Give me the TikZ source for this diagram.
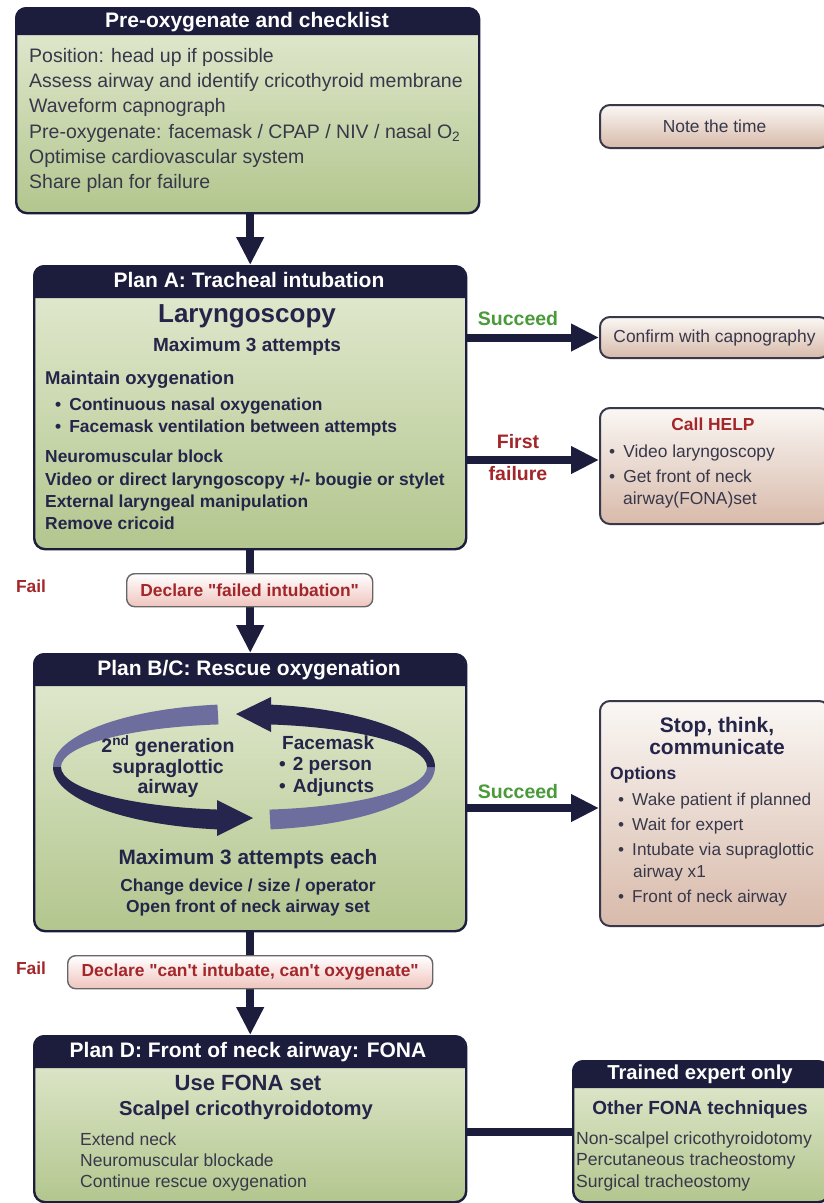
\documentclass[tikz,border=0pt]{standalone}
\usepackage{fontspec}
\setmainfont{Liberation Sans}[Ligatures=TeXOff]
\usetikzlibrary{arrows.meta}
\definecolor{navy}{HTML}{1C1C3C}
\definecolor{txtnavy}{HTML}{25254A}
\definecolor{txtgrey}{HTML}{38384A}
\definecolor{greentop}{HTML}{E4EBD3}
\definecolor{greenbot}{HTML}{B3C68E}
\definecolor{pinktop}{HTML}{FAF7F4}
\definecolor{pinkbot}{HTML}{D8BAAA}
\definecolor{decltop}{HTML}{FFFFFF}
\definecolor{declbot}{HTML}{EFC4BE}
\definecolor{redtxt}{HTML}{A3262A}
\definecolor{greentxt}{HTML}{4A9A3A}
\definecolor{ribdark}{HTML}{25254D}
\definecolor{riblight}{HTML}{6E6E9E}
\newcommand{\fsz}[1]{\fontsize{#1}{#1}\selectfont}
\tikzset{
  greenbox/.style={draw=navy, line width=2.4pt, rounded corners=11pt, top color=greentop, bottom color=greenbot, inner sep=0pt},
  pinkbox/.style={draw=txtgrey, line width=2pt, rounded corners=10pt, top color=pinktop, bottom color=pinkbot, inner sep=0pt, text=txtgrey, font=\fsz{17.4}},
  declbox/.style={draw=black!60, line width=1.4pt, rounded corners=8pt, top color=decltop, bottom color=declbot, inner sep=0pt, text=redtxt, font=\bfseries\fsz{17.4}},
  hdr/.style={text=white, font=\bfseries\fsz{21}, inner sep=0pt, anchor=mid},
  tb/.style={inner sep=0pt, text=txtnavy},
  tr/.style={inner sep=0pt, text=txtgrey},
  flow/.style={draw=navy, line width=8pt, -{Triangle[width=26pt,length=28pt]}},
  link/.style={draw=navy, line width=8pt},
  lblg/.style={inner sep=0pt, text=greentxt, font=\bfseries\fsz{19.5}, anchor=mid},
  lblr/.style={inner sep=0pt, text=redtxt, font=\bfseries\fsz{19.5}, anchor=mid}
}
\newcommand{\planbox}[6]{%
  \node[greenbox, anchor=north west, minimum width={#4pt-#2pt}, minimum height={#5pt-#3pt}] (#1) at (#2,#3) {};
  \fill[navy] (#2,#6) [rounded corners=11pt] -- (#2,#3) -- (#4,#3) [sharp corners] -- (#4,#6) -- cycle;
}
\newcommand{\sidebox}[6]{%
  \node[pinkbox, anchor=north west, minimum width={#4pt-#2pt}, minimum height={#5pt-#3pt}] (#1) at (#2,#3) {#6};
}
% ribbon segment between outer (191 x 63) and inner (183 x 43) ellipse, from angle #2 to #3
\newcommand{\ribseg}[3]{%
  \fill[#1] ([shift={(#2:191 and 63)}]cyc) arc[start angle=#2, end angle=#3, x radius=191, y radius=63]
    -- ([shift={(#3:183 and 43)}]cyc) arc[start angle=#3, end angle=#2, x radius=183, y radius=43] -- cycle;
}
\begin{document}
\begin{tikzpicture}[x=1pt, y=-1pt]
\useasboundingbox[fill=white] (0,0) rectangle (823,1203);

% ---------- main boxes ----------
\planbox{pre}{15}{7}{478}{212}{35}
\node[hdr] (pre-title) at (247,25) {Pre-oxygenate and checklist};
\planbox{planA}{33}{265}{465}{548}{298}
\node[hdr] (planA-title) at (249,285) {Plan A: Tracheal intubation};
\planbox{planBC}{33}{653}{465}{930}{686}
\node[hdr] (planBC-title) at (249,673) {Plan B/C: Rescue oxygenation};
\planbox{planD}{33}{1035}{465}{1201}{1068}
\node[hdr] (planD-title) at (248,1055) {Plan D: Front of neck airway: FONA};
\planbox{expert}{572}{1060}{828}{1201}{1088}
\node[hdr, font=\bfseries\fsz{20.2}] (expert-title) at (700,1077) {Trained expert only};

% ---------- side boxes ----------
\sidebox{note}{599}{104}{828}{147}{Note the time}
\sidebox{confirm}{599}{316}{828}{357}{Confirm with capnography}
\sidebox{help}{599}{407}{828}{523}{}
\sidebox{stop}{599}{700}{828}{925}{}

% ---------- connectors ----------
\draw[flow] (planA.north |- pre.south) -- (planA.north);
\draw[flow] (planA.south) -- (planBC.north);
\draw[flow] (planBC.south) -- (planD.north);
\draw[flow] (confirm.west -| planA.east) -- (confirm.west);
\coordinate (ff) at (465,460);
\draw[flow] (ff) -- (ff -| help.west);
\coordinate (sc) at (465,808);
\draw[flow] (sc) -- (sc -| stop.west);
\draw[link] (expert.west -| planD.east) -- (expert.west);

% ---------- declare boxes ----------
\node[declbox, anchor=north west, minimum width=246pt, minimum height=33pt] (decl1) at (126,573) {Declare "failed intubation"};
\node[declbox, anchor=north west, minimum width=365pt, minimum height=33pt] (decl2) at (67,955) {Declare "can't intubate, can't oxygenate"};
\node[lblr, font=\bfseries\fsz{17.4}] (fail1) at (31,590) {Fail};
\node[lblr, font=\bfseries\fsz{17.4}] (fail2) at (31,972) {Fail};

% ---------- labels ----------
\node[lblg] (succ1) at (518,323) {Succeed};
\node[lblr] (first) at (518,446) {First};
\node[lblr] (failure) at (518,478) {failure};
\node[lblg] (succ2) at (518,796) {Succeed};

% ---------- pre-oxygenate text ----------
\foreach \i/\yy/\tt in {1/60/{Position: head up if possible},
  2/85/{Assess airway and identify cricothyroid membrane},
  3/110/{Waveform capnograph},
  4/136/{Pre-oxygenate: facemask / CPAP / NIV / nasal O\textsubscript{2}},
  5/161/{Optimise cardiovascular system},
  6/186/{Share plan for failure}}
  \node[tr, anchor=mid west, font=\fsz{19.5}] (pre\i) at (29,\yy) {\tt};

% ---------- plan A text ----------
\node[tb, anchor=mid, font=\bfseries\fsz{26}] (laryn) at (247,320) {Laryngoscopy};
\node[tb, anchor=mid, font=\bfseries\fsz{19}] (max3) at (247,349) {Maximum 3 attempts};
\node[tb, anchor=mid west, font=\bfseries\fsz{18.5}] (maint) at (45,382) {Maintain oxygenation};
\node[tb, anchor=mid west, font=\bfseries\fsz{17.4}] (pa1) at (55,408) {•\hspace{8pt}Continuous nasal oxygenation};
\node[tb, anchor=mid west, font=\bfseries\fsz{17.4}] (pa2) at (55,430) {•\hspace{8pt}Facemask ventilation between attempts};
\foreach \i/\yy/\tt in {3/460/{Neuromuscular block},
  4/483/{Video or direct laryngoscopy +/- bougie or stylet},
  5/505/{External laryngeal manipulation},
  6/527/{Remove cricoid}}
  \node[tb, anchor=mid west, font=\bfseries\fsz{17.4}] (pa\i) at (45,\yy) {\tt};

% ---------- help box text ----------
\node[tb, anchor=mid, text=redtxt, font=\bfseries\fsz{17.4}] (helpT) at (713,428) {Call HELP};
\node[tr, anchor=mid west, font=\fsz{17.4}] (h1) at (609,455) {•\hspace{8pt}Video laryngoscopy};
\node[tr, anchor=mid west, font=\fsz{17.4}] (h2) at (609,480) {•\hspace{8pt}Get front of neck};
\node[tr, anchor=mid west, font=\fsz{17.4}] (h3) at (623,502) {airway(FONA)set};

% ---------- plan B/C cycle ----------
\coordinate (cyc) at (244,767);
\ribseg{riblight}{262}{180}
\ribseg{ribdark}{180}{98}
\fill[ribdark] (217,800) -- (253,818) -- (217,836) -- cycle;
\ribseg{riblight}{82}{0}
\ribseg{ribdark}{0}{-82}
\fill[ribdark] (271,697) -- (236,714) -- (271,732) -- cycle;

\node[tb, anchor=mid, font=\bfseries\fsz{19.5}] (sga1) at (168,750) {2\textsuperscript{nd} generation};
\node[tb, anchor=mid, font=\bfseries\fsz{19.5}] (sga2) at (168,771) {supraglottic};
\node[tb, anchor=mid, font=\bfseries\fsz{19.5}] (sga3) at (168,791) {airway};
\node[tb, anchor=mid west, font=\bfseries\fsz{19}] (fm1) at (282,747) {Facemask};
\node[tb, anchor=mid west, font=\bfseries\fsz{19}] (fm2) at (279,768) {•\hspace{7pt}2 person};
\node[tb, anchor=mid west, font=\bfseries\fsz{19}] (fm3) at (279,790) {•\hspace{7pt}Adjuncts};

\node[tb, anchor=mid, font=\bfseries\fsz{20.8}] (max3e) at (248,862) {Maximum 3 attempts each};
\node[tb, anchor=mid, font=\bfseries\fsz{17.4}] (chg) at (248,889) {Change device / size / operator};
\node[tb, anchor=mid, font=\bfseries\fsz{17.4}] (opn) at (248,910) {Open front of neck airway set};

% ---------- stop box text ----------
\node[tb, anchor=mid, font=\bfseries\fsz{21}] (stop1) at (717,730) {Stop, think,};
\node[tb, anchor=mid, font=\bfseries\fsz{21}] (stop2) at (717,752) {communicate};
\node[tb, anchor=mid west, font=\bfseries\fsz{17.5}] (opt) at (610,777) {Options};
\node[tr, anchor=mid west, font=\fsz{17.2}] (o1) at (618,803) {•\hspace{8pt}Wake patient if planned};
\node[tr, anchor=mid west, font=\fsz{17.2}] (o2) at (618,828) {•\hspace{8pt}Wait for expert};
\node[tr, anchor=mid west, font=\fsz{17.2}] (o3) at (618,853) {•\hspace{8pt}Intubate via supraglottic};
\node[tr, anchor=mid west, font=\fsz{17.2}] (o4) at (633,875) {airway x1};
\node[tr, anchor=mid west, font=\fsz{17.2}] (o5) at (618,900) {•\hspace{8pt}Front of neck airway};

% ---------- plan D text ----------
\node[tb, anchor=mid, font=\bfseries\fsz{22}] (usefona) at (248,1088) {Use FONA set};
\node[tb, anchor=mid, font=\bfseries\fsz{20.2}] (scalpel) at (246,1113) {Scalpel cricothyroidotomy};
\node[tr, anchor=mid west, font=\fsz{17.5}] (d1) at (80,1143) {Extend neck};
\node[tr, anchor=mid west, font=\fsz{17.5}] (d2) at (80,1164) {Neuromuscular blockade};
\node[tr, anchor=mid west, font=\fsz{17.5}] (d3) at (80,1185) {Continue rescue oxygenation};

% ---------- expert text ----------
\node[tb, anchor=mid, font=\bfseries\fsz{19}] (other) at (700,1112) {Other FONA techniques};
\node[tr, anchor=mid west, font=\fsz{17.6}] (e1) at (576,1142) {Non-scalpel cricothyroidotomy};
\node[tr, anchor=mid west, font=\fsz{17.6}] (e2) at (576,1163) {Percutaneous tracheostomy};
\node[tr, anchor=mid west, font=\fsz{17.6}] (e3) at (576,1185) {Surgical tracheostomy};
\end{tikzpicture}
\end{document}
